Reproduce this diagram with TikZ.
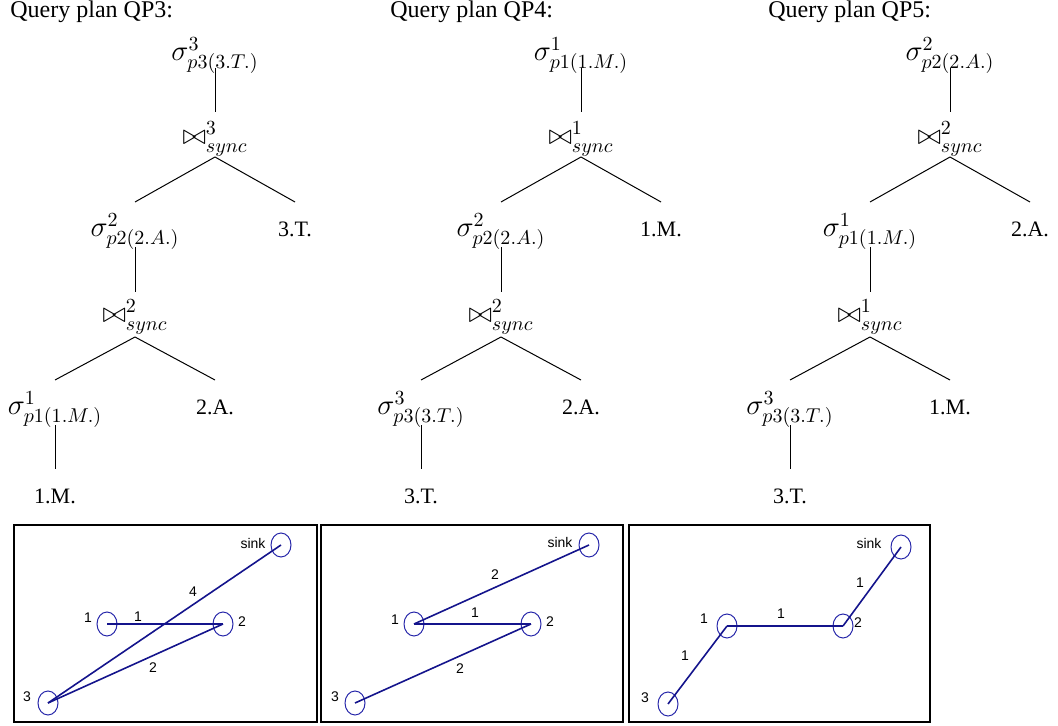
\documentclass[tikz,border=0pt]{standalone}
\usepackage[no-math]{fontspec}
\setmainfont{Liberation Serif}
\newfontfamily\arialf{Liberation Sans}
\usetikzlibrary{calc,shapes.geometric}
\definecolor{navy}{RGB}{20,20,140}
\definecolor{circ}{RGB}{40,40,170}
\begin{document}
\begin{tikzpicture}[x=0.5pt,y=-0.5pt,
  title/.style={anchor=base west, inner sep=0pt, font=\fontsize{12}{14}\selectfont},
  leaf/.style={anchor=base, inner sep=0pt, font=\fontsize{11}{13}\selectfont},
  op/.style={anchor=base, inner sep=0pt, font=\fontsize{14.4}{17}\selectfont},
  tl/.style={line width=0.5pt},
  box/.style={draw, line width=0.7pt},
  vert/.style={ellipse, draw=circ, line width=0.5pt, minimum width=10pt, minimum height=12pt, inner sep=0pt},
  vl/.style={inner sep=0pt, font=\arialf\fontsize{7}{8}\selectfont},
  edge/.style={draw=navy, line width=0.8pt}]
\useasboundingbox (0,0) rectangle (1058,726);

% ---------- titles
\node[title] (t3) at (10,18) {Query plan QP3:};
\node[title] (t4) at (390,18) {Query plan QP4:};
\node[title] (t5) at (768,18) {Query plan QP5:};

% ---------- QP3 (L = 215)
\node[op] (a1) at (215,61) {$\sigma^3_{p3(3.T.)}$};
\node[op] (aj1) at (215,145) {$\bowtie^3_{sync}$};
\node[op] (a2) at (135,237) {$\sigma^2_{p2(2.A.)}$};
\node[leaf] (ar1) at (295,237) {3.T.};
\node[op] (aj2) at (135,323) {$\bowtie^2_{sync}$};
\node[op] (a3) at (55,415) {$\sigma^1_{p1(1.M.)}$};
\node[leaf] (ar2) at (215,415) {2.A.};
\node[leaf] (ab) at (55,503) {1.M.};

% ---------- QP4 (L = 581)
\node[op] (b1) at (581,61) {$\sigma^1_{p1(1.M.)}$};
\node[op] (bj1) at (581,145) {$\bowtie^1_{sync}$};
\node[op] (b2) at (501,237) {$\sigma^2_{p2(2.A.)}$};
\node[leaf] (br1) at (661,237) {1.M.};
\node[op] (bj2) at (501,323) {$\bowtie^2_{sync}$};
\node[op] (b3) at (421,415) {$\sigma^3_{p3(3.T.)}$};
\node[leaf] (br2) at (581,415) {2.A.};
\node[leaf] (bb) at (421,503) {3.T.};

% ---------- QP5 (L = 950)
\node[op] (c1) at (950,61) {$\sigma^2_{p2(2.A.)}$};
\node[op] (cj1) at (950,145) {$\bowtie^2_{sync}$};
\node[op] (c2) at (870,237) {$\sigma^1_{p1(1.M.)}$};
\node[leaf] (cr1) at (1030,237) {2.A.};
\node[op] (cj2) at (870,323) {$\bowtie^1_{sync}$};
\node[op] (c3) at (790,415) {$\sigma^3_{p3(3.T.)}$};
\node[leaf] (cr2) at (950,415) {1.M.};
\node[leaf] (cb) at (790,503) {3.T.};

% ---------- tree connectors
\foreach \p in {a,b,c}{
  \draw[tl] ($(\p1.base)+(0,7)$) -- ($(\p j1.base)+(0,-33)$);
  \draw[tl] ($(\p j1.base)+(0,12)$) -- ($(\p2.base)+(0,-35)$);
  \draw[tl] ($(\p j1.base)+(0,12)$) -- ($(\p r1.base)+(0,-35)$);
  \draw[tl] ($(\p2.base)+(0,10)$) -- ($(\p j2.base)+(0,-31)$);
  \draw[tl] ($(\p j2.base)+(0,14)$) -- ($(\p3.base)+(0,-35)$);
  \draw[tl] ($(\p j2.base)+(0,14)$) -- ($(\p r2.base)+(0,-35)$);
  \draw[tl] ($(\p3.base)+(0,10)$) -- ($(\p b.base)+(0,-34)$);
}

% ---------- boxes
\draw[box] (14,525) rectangle (317,722);
\draw[box] (321,525) rectangle (623,722);
\draw[box] (629,525) rectangle (930,722);

% ---------- graph 1
\node[vert] (gs1) at (281,545) {};
\node[vert] (g11) at (107,624) {};
\node[vert] (g21) at (223,624) {};
\node[vert] (g31) at (48,703) {};
\node[vl] (ls1) at (253,543) {sink};
\node[vl] (l11) at (88,618) {1};
\node[vl] (l21) at (242,622) {2};
\node[vl] (l31) at (27,697) {3};
\draw[edge] (g11.center) -- (g21.center);
\draw[edge] (g31.center) -- (gs1.center);
\draw[edge] (g31.center) -- (g21.center);
\node[vl] (e11) at (138,617) {1};
\node[vl] (e21) at (193,592) {4};
\node[vl] (e31) at (153,668) {2};

% ---------- graph 2
\node[vert] (gs2) at (589,545) {};
\node[vert] (g12) at (414,624) {};
\node[vert] (g22) at (531,624) {};
\node[vert] (g32) at (355,703) {};
\node[vl] (ls2) at (560,542) {sink};
\node[vl] (l12) at (395,620) {1};
\node[vl] (l22) at (550,622) {2};
\node[vl] (l32) at (335,697) {3};
\draw[edge] (g12.center) -- (gs2.center);
\draw[edge] (g12.center) -- (g22.center);
\draw[edge] (g32.center) -- (g22.center);
\node[vl] (e12) at (495,575) {2};
\node[vl] (e22) at (475,613) {1};
\node[vl] (e32) at (460,669) {2};

% ---------- graph 3
\node[vert] (gs3) at (901,547) {};
\node[vert] (g13) at (727,626) {};
\node[vert] (g23) at (843,626) {};
\node[vert] (g33) at (668,704) {};
\node[vl] (ls3) at (869,543) {sink};
\node[vl] (l13) at (704,619) {1};
\node[vl] (l23) at (858,623) {2};
\node[vl] (l33) at (645,698) {3};
\draw[edge] (g33.center) -- (g13.center);
\draw[edge] (g13.center) -- (g23.center);
\draw[edge] (g23.center) -- (gs3.center);
\node[vl] (e13) at (685,656) {1};
\node[vl] (e23) at (781,614) {1};
\node[vl] (e33) at (860,583) {1};
\end{tikzpicture}
\end{document}
